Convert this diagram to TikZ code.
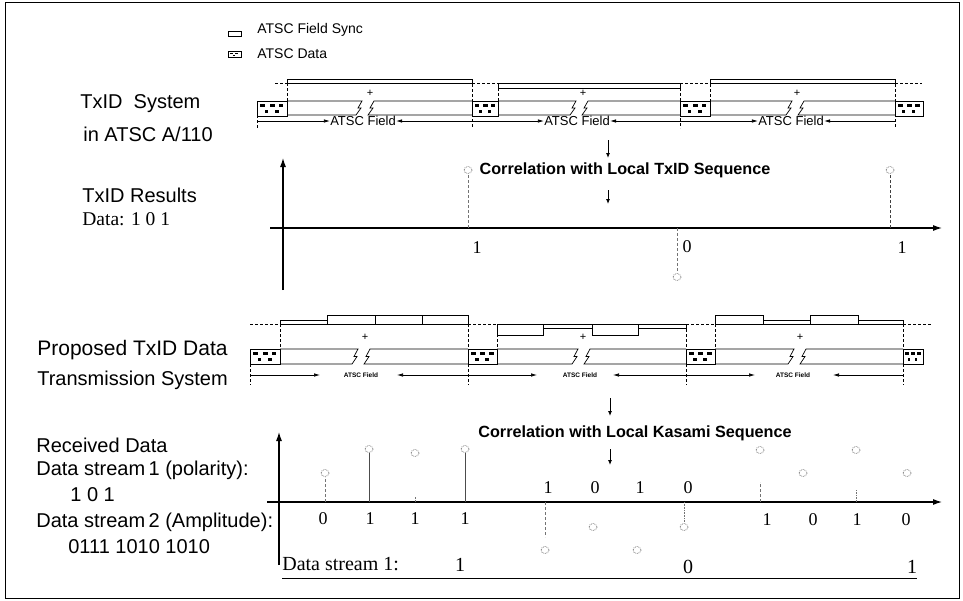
\documentclass[tikz,border=0pt]{standalone}
\usepackage{fontspec}
\setmainfont{Liberation Serif}
\setsansfont{Liberation Sans}
\usetikzlibrary{arrows.meta}
\newcommand{\dblk}[3]{%
 \begin{scope}[shift={(#1,#2)}]
  \filldraw[fill=white] (0,0) rectangle (#3,15);
  \fill (0.10*#3,3) rectangle ++(0.18*#3,2.5);
  \fill (0.42*#3,3) rectangle ++(0.18*#3,2.5);
  \fill (0.72*#3,3) rectangle ++(0.16*#3,2.5);
  \fill (0.25*#3,9) rectangle ++(0.12*#3,3);
  \fill (0.60*#3,8.5) rectangle ++(0.12*#3,3);
 \end{scope}}
\newcommand{\fld}[5]{%
 \pgfmathsetmacro\fmid{(#4+#5)/2}%
 \draw[fill=white] (#1,#4) -- (#3-3,#4) -- (#3-7,\fmid) -- (#3-4,\fmid) -- (#3-9,#5) -- (#1,#5);%
 \draw[fill=white] (#2,#4) -- (#3+9,#4) -- (#3+5,\fmid) -- (#3+8,\fmid) -- (#3+3,#5) -- (#2,#5);}
\begin{document}
\begin{tikzpicture}[x=1pt,y=-1pt,line width=0.7pt,
 sf/.style={font=\sffamily\fontsize{20}{23}\selectfont,anchor=west,inner sep=0pt},
 sr/.style={font=\rmfamily\fontsize{19.5}{22}\selectfont,anchor=west,inner sep=0pt},
 num/.style={font=\rmfamily\fontsize{18}{20}\selectfont,inner sep=0pt},
 fl/.style={font=\sffamily\fontsize{13}{15}\selectfont,inner sep=0pt},
 fls/.style={font=\sffamily\bfseries\fontsize{6.5}{7}\selectfont,inner sep=0pt},
 corr/.style={font=\sffamily\bfseries\fontsize{16.2}{18}\selectfont,inner sep=0pt},
 leg/.style={font=\sffamily\fontsize{14}{16}\selectfont,anchor=west,inner sep=0pt},
 plus/.style={font=\sffamily\fontsize{11}{12}\selectfont,inner sep=0pt},
 vd/.style={densely dashed,line width=0.6pt},
 hd/.style={densely dashed,line width=0.9pt},
 arr/.style={-{Latex[length=6pt,width=3.5pt]},line width=0.7pt},
 darr/.style={-{Latex[length=5pt,width=4pt]},line width=0.9pt},
 axis/.style={-{Latex[length=9pt,width=6pt]},line width=1.1pt},
 circ/.style={draw=black!60,densely dotted,line width=0.7pt},
 stem/.style={draw=black!55,densely dashed,line width=0.6pt},
]
\useasboundingbox (0,0) rectangle (963,600);
\draw[line width=1pt] (5,2) rectangle (959,598);

% legend
\draw[line width=0.6pt] (228,31) rectangle (241,36);
\node[leg] (legA) at (257,30) {ATSC Field Sync};
\begin{scope}[shift={(228,51)}]
 \draw[line width=0.6pt] (0,0) rectangle (13,6);
 \fill (2,1.5) rectangle ++(2.5,1.3); \fill (7,1.5) rectangle ++(2.5,1.3); \fill (4.5,3.8) rectangle ++(2,1.3);
\end{scope}
\node[leg] (legB) at (257,54) {ATSC Data};

% left labels
\node[sf] (l1) at (80,104) {TxID\ \ System};
\node[sf] (l2) at (83,134) {in ATSC A/110};
\node[sf] (l3) at (82,195) {TxID Results};
\node[sr] (l4) at (82,219) {Data: 1 0 1};
\node[sf,font=\sffamily\fontsize{21}{23}\selectfont] (l5) at (37,350) {Proposed TxID Data};
\node[sf] (l6) at (37,380) {Transmission System};
\node[sf] (l7) at (36,445) {Received Data};
\node[sf] (l8) at (36,470) {Data stream\,1 (polarity):};
\node[sf] (l9) at (70,495) {1 0 1};
\node[sf] (l10) at (36,522) {Data stream\,2 (Amplitude):};
\node[sf] (l11) at (68,547) {0111 1010 1010};

% ---------- row 1 ----------
\draw[hd] (275,83) -- (287,83);
\draw[hd] (472,83) -- (498,83);
\draw[hd] (680,83) -- (710,83);
\draw[hd] (895,83) -- (922,83);
\draw[line width=0.6pt] (287,79) rectangle (472,83);
\draw[line width=0.6pt] (498,83) rectangle (680,88);
\draw[line width=0.6pt] (710,79) rectangle (895,83);
\fld{287}{472}{365}{101}{115}
\fld{498}{680}{579}{101}{115}
\fld{710}{895}{795}{101}{115}
\dblk{257}{101}{30}
\dblk{472}{101}{26}
\dblk{680}{101}{30}
\dblk{895}{101}{28}
\draw[vd] (287,83) -- (287,115);
\draw[vd] (472,79) -- (472,128);
\draw[vd] (498,83) -- (498,115);
\draw[vd] (680,83) -- (680,128);
\draw[vd] (710,79) -- (710,115);
\draw[vd] (895,79) -- (895,128);
\draw[vd] (257,115) -- (257,128);
\node[plus] (pa1) at (370,93) {+};
\node[plus] (pa2) at (583,93) {+};
\node[plus] (pa3) at (797,93) {+};
\node[fl] (fa1) at (363,121) {ATSC Field};
\node[fl] (fa2) at (577,121) {ATSC Field};
\node[fl] (fa3) at (791,121) {ATSC Field};
\draw[arr] (257,121) -- (fa1.west);
\draw[arr] (472,121) -- (fa1.east);
\draw[arr] (472,121) -- (fa2.west);
\draw[arr] (680,121) -- (fa2.east);
\draw[arr] (680,121) -- (fa3.west);
\draw[arr] (895,121) -- (fa3.east);

% ---------- correlation 1 ----------
\node[corr] (c1) at (625,170) {Correlation with Local TxID Sequence};
\coordinate (c1a) at (608,140); \coordinate (c1b) at (608,158);
\coordinate (c1c) at (608,190); \coordinate (c1d) at (608,204);
\draw[darr] (c1a) -- (c1b);
\draw[darr] (c1c) -- (c1d);

% ---------- row 2 ----------
\draw[axis] (283,290) -- (283,158);
\draw[axis] (270,228) -- (942,228);
\draw[stem] (468,228) -- (468,174);
\draw[circ] (468,170) ellipse (4 and 3.5);
\draw[stem] (677,228) -- (677,273);
\draw[circ] (677,277) ellipse (4 and 3.5);
\draw[stem,draw=black!75] (890,228) -- (890,174);
\draw[circ] (890,170) ellipse (4 and 3.5);
\node[num] (r2a) at (477,248) {1};
\node[num] (r2b) at (687,247) {0};
\node[num] (r2c) at (902,248) {1};

% ---------- row 3 ----------
\draw[hd] (250,324) -- (280,324);
\draw[hd] (468,324) -- (497,324);
\draw[hd] (686,324) -- (715,324);
\draw[hd] (903,324) -- (932,324);
\draw (280,320) rectangle (327,324);
\draw (327,315) rectangle (375,324);
\draw (375,315) rectangle (422,324);
\draw (422,315) rectangle (468,324);
\draw (497,324) rectangle (543,335);
\draw (543,324) rectangle (592,328);
\draw (592,324) rectangle (638,335);
\draw (638,324) rectangle (686,328);
\draw (715,315) rectangle (763,324);
\draw (763,320) rectangle (810,324);
\draw (810,315) rectangle (858,324);
\draw (858,320) rectangle (903,324);
\fld{280}{468}{361}{349}{364}
\fld{497}{686}{581}{349}{364}
\fld{715}{903}{797}{349}{364}
\dblk{250}{349}{30}
\dblk{468}{349}{29}
\dblk{686}{349}{29}
\dblk{903}{349}{20}
\draw[vd] (280,324) -- (280,364);
\draw[vd] (250,364) -- (250,385);
\draw[vd] (468,324) -- (468,385);
\draw[vd] (497,324) -- (497,364);
\draw[vd] (686,324) -- (686,385);
\draw[vd] (715,324) -- (715,364);
\draw[vd] (903,324) -- (903,385);
\node[plus] (pb1) at (365,337) {+};
\node[plus] (pb2) at (583,337) {+};
\node[plus] (pb3) at (800,337) {+};
\node[fls] (fb1) at (361,375) {ATSC Field};
\node[fls] (fb2) at (580,375) {ATSC Field};
\node[fls] (fb3) at (793,375) {ATSC Field};
\coordinate (b1a) at (320,375); \coordinate (b1b) at (397,375);
\coordinate (b2a) at (537,375); \coordinate (b2b) at (613,375);
\coordinate (b3a) at (755,375); \coordinate (b3b) at (833,375);
\draw[arr] (250,375) -- (b1a);
\draw[arr] (468,375) -- (b1b);
\draw[arr] (468,375) -- (b2a);
\draw[arr] (686,375) -- (b2b);
\draw[arr] (686,375) -- (b3a);
\draw[arr] (903,375) -- (b3b);

% ---------- correlation 2 ----------
\node[corr] (c2) at (635,433) {Correlation with Local Kasami Sequence};
\coordinate (c2a) at (610,398); \coordinate (c2b) at (610,416);
\coordinate (c2c) at (610,449); \coordinate (c2d) at (610,465);
\draw[darr] (c2a) -- (c2b);
\draw[darr] (c2c) -- (c2d);

% ---------- row 4 ----------
\draw[axis] (279,565) -- (279,432);
\draw[axis] (267,502) -- (942,502);
% stems above
\draw[stem] (325,502) -- (325,477); \draw[circ] (325,473) ellipse (4 and 3.5);
\draw[line width=0.6pt,black!70] (369,502) -- (369,453); \draw[circ] (369,449) ellipse (4 and 3.5);
\draw[stem,densely dotted] (415,502) -- (415,496); \draw[circ] (415,453) ellipse (4 and 3.5);
\draw[line width=0.6pt,black!70] (465,502) -- (465,453); \draw[circ] (465,449) ellipse (4 and 3.5);
% stems below
\draw[stem] (545,502) -- (545,537); \draw[circ] (545,550) ellipse (4 and 3.5);
\draw[circ] (593,527) ellipse (4 and 3.5);
\draw[circ] (637,550) ellipse (4 and 3.5);
\draw[stem,densely dotted] (684,502) -- (684,522); \draw[circ] (684,527) ellipse (4 and 3.5);
% stems above (third field)
\draw[stem] (760,502) -- (760,482); \draw[circ] (760,450) ellipse (4 and 3.5);
\draw[circ] (803,473) ellipse (4 and 3.5);
\draw[stem,densely dotted] (856,502) -- (856,490); \draw[circ] (856,450) ellipse (4 and 3.5);
\draw[circ] (907,473) ellipse (4 and 3.5);
% labels
\node[num] (d1) at (323,519) {0};
\node[num] (d2) at (370,519) {1};
\node[num] (d3) at (415,519) {1};
\node[num] (d4) at (465,519) {1};
\node[num] (d5) at (548,488) {1};
\node[num] (d6) at (595,488) {0};
\node[num] (d7) at (640,488) {1};
\node[num] (d8) at (688,488) {0};
\node[num] (d9) at (767,520) {1};
\node[num] (d10) at (813,520) {0};
\node[num] (d11) at (857,520) {1};
\node[num] (d12) at (906,520) {0};
% data stream 1 line
\node[font=\rmfamily\fontsize{20}{22}\selectfont,anchor=west,inner sep=0pt] (ds) at (282,564) {Data stream 1:};
\node[font=\rmfamily\fontsize{20}{22}\selectfont,inner sep=0pt] (ds1) at (460,565) {1};
\node[font=\rmfamily\fontsize{20}{22}\selectfont,inner sep=0pt] (ds2) at (688,567) {0};
\node[font=\rmfamily\fontsize{20}{22}\selectfont,inner sep=0pt] (ds3) at (912,567) {1};
\coordinate (ulA) at (282,578); \coordinate (ulB) at (917,578);
\draw[line width=0.8pt] (ulA) -- (ulB);
\end{tikzpicture}
\end{document}
